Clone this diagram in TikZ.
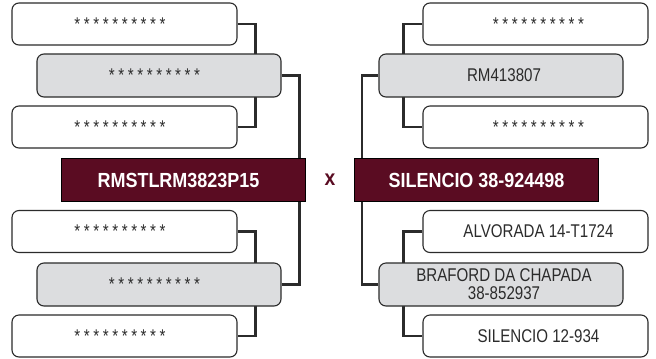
\documentclass[tikz,border=0pt]{standalone}
\usepackage{fontspec}
\setmainfont{Liberation Sans}[FakeStretch=0.82]
\newfontfamily\boldcond{Liberation Sans}[FakeStretch=0.88]
\usetikzlibrary{backgrounds}
\definecolor{maroon}{HTML}{5A0C22}
\definecolor{boxgrey}{HTML}{DCDDDF}
\definecolor{ink}{HTML}{2B2B2B}
\newcommand\stars{*\kern3.6bp*\kern3.6bp*\kern3.6bp*\kern3.6bp*\kern3.6bp*\kern3.6bp*\kern3.6bp*\kern3.6bp*\kern3.6bp*}
\begin{document}
\begin{tikzpicture}[x=1bp,y=-1bp,
  wbox/.style={draw=ink, line width=1.1bp, rounded corners=7bp, fill=white,
    minimum width=225bp, minimum height=42bp, inner sep=0pt,
    font=\fontsize{18.5}{18}\selectfont, text=ink},
  gbox/.style={wbox, fill=boxgrey, minimum width=244bp, minimum height=43bp},
  mainbox/.style={draw=black, line width=0.8bp, fill=maroon, text=white,
    minimum width=244bp, minimum height=43bp,
    font=\boldcond\bfseries\fontsize{20.5}{22}\selectfont, inner sep=0pt},
  link/.style={draw=ink, line width=2.2bp},
  lt/.style={execute at begin node=\kern-9bp},
  rt/.style={execute at begin node=\kern6bp}]
\useasboundingbox (0,0) rectangle (656,358);
% left side
\node[wbox,lt] (a1) at (124.5,24) {\stars};
\node[gbox,lt] (a2) at (159,75.5) {\stars};
\node[wbox,lt] (a3) at (124.5,127) {\stars};
\node[mainbox,lt] (ml) at (183,180) {RMSTLRM3823P15};
\node[wbox,lt] (b1) at (124.5,231.5) {\stars};
\node[gbox,lt] (b2) at (159,284.5) {\stars};
\node[wbox,lt] (b3) at (124.5,336) {\stars};
% right side
\node[wbox,rt] (r1) at (535.5,24) {\stars};
\node[gbox,rt] (r2) at (501,75.5) {RM413807};
\node[wbox,rt] (r3) at (535.5,127) {\stars};
\node[mainbox] (mr) at (476.5,180) {SILENCIO 38-924498};
\node[wbox,rt] (r4) at (535.5,231.5) {ALVORADA 14-T1724};
\node[gbox,align=center] (r5) at (501,284.5) {\kern6bp BRAFORD DA CHAPADA\\\kern6bp 38-852937};
\node[wbox,rt] (r6) at (535.5,336) {SILENCIO 12-934};
\node[text=maroon, font=\boldcond\bfseries\fontsize{22}{24}\selectfont, inner sep=0pt] (vs) at (330,180) {x};
\begin{scope}[on background layer]
\fill[white] (0,0) rectangle (656,358);
\draw[link] (a1.east) -- ++(18,0) |- (a3.east);
\draw[link] (a2.east) -| ([xshift=-6bp]ml.north east);
\draw[link] (b1.east) -- ++(18,0) |- (b3.east);
\draw[link] (b2.east) -| ([xshift=-6bp]ml.south east);
\draw[link] (r1.west) -- ++(-19,0) |- (r3.west);
\draw[link] (r2.west) -| ([xshift=8bp]mr.north west);
\draw[link] (r4.west) -- ++(-19,0) |- (r6.west);
\draw[link] (r5.west) -| ([xshift=8bp]mr.south west);
\end{scope}
\end{tikzpicture}
\end{document}
